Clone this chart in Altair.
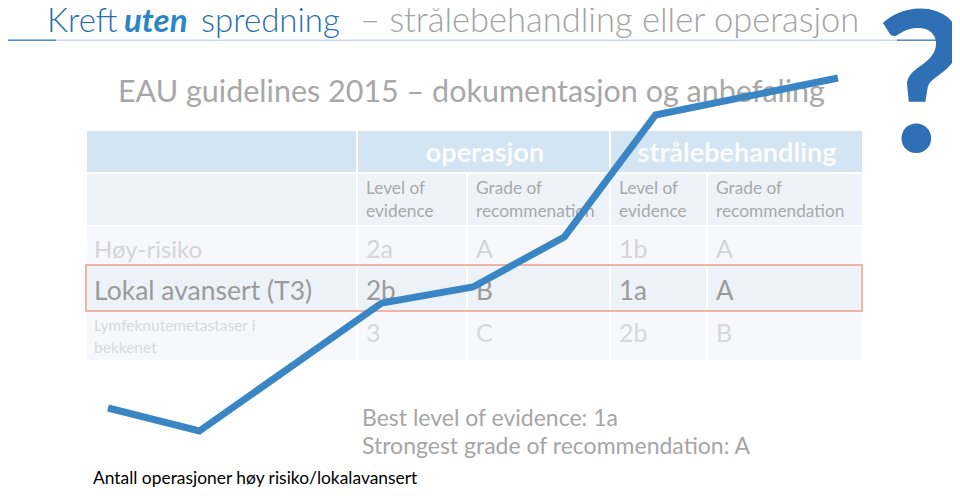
import altair as alt
import pandas as pd

# ---------------- data ----------------
years = [2007, 2008, 2010, 2011, 2012, 2013, 2015]
operations = [52, 29, 157, 173, 223, 345, 382]

title_words = ["Kreft", "uten", "spredning", "– strålebehandling eller operasjon"]
subtitle = "EAU guidelines 2015 – dokumentasjon og anbefaling"
group_headers = ["operasjon", "strålebehandling"]
sub_headers = ["Level of\nevidence", "Grade of\nrecommenation", "Level of\nevidence", "Grade of\nrecommendation"]
row_labels = ["Høy-risiko", "Lokal avansert (T3)", "Lymfeknutemetastaser i\nbekkenet"]
op_level = ["2a", "2b", "3"]
op_grade = ["A", "B", "C"]
rt_level = ["1b", "1a", "2b"]
rt_grade = ["A", "A", "B"]
summary = ["Best level of evidence: 1a", "Strongest grade of recommendation: A"]
footnote = "Antall operasjoner høy risiko/lokalavansert"

# ---------------- layout (page pixels) ----------------
W, H, M = 944, 480, 8
FONT = "Lato"
PX = alt.Scale(domain=[M, M + W], nice=False, zero=False)
PY = alt.Scale(domain=[M, M + H], nice=False, zero=False, reverse=True)

title_x = [47, 124, 201, 360]
title_style = ["plain", "em", "plain", "grey"]
col_edges = [(87, 356), (358, 466), (468, 609), (611, 706), (708, 862)]
group_edges = [(87, 356), (358, 609), (611, 862)]
col_text_x = [94, 366, 476, 619, 716]
row_edges = [(174, 225), (226, 265), (266, 311), (312, 360)]
row_fill = ["#eef3f9", "#f6f8fc", "#edf1f8", "#f6f8fc"]
row_base = [258, 300, 342]
row_label_base = [258, 300, 331]
row_label_size = [24, 26.5, 15.5]
row_value_size = [25, 26, 25]
row_color = ["#d5d5d5", "#9b9b9b", "#d8d8d8"]

# line scale so data lands on the slide position
LX0, LSTEP = 108, 91.25
x_lo = years[0] - (LX0 - M) / LSTEP
x_hi = years[0] + (M + W - LX0) / LSTEP
Y0 = 460  # page y for zero operations
y_lo = -(M + H - Y0)
y_hi = Y0 - M


def pos():
    return dict(x=alt.X("x:Q", scale=PX, axis=None), y=alt.Y("y:Q", scale=PY, axis=None))


def text_layer(items, **kw):
    df = pd.DataFrame(items, columns=["x", "y", "t"])
    return alt.Chart(df).mark_text(font=FONT, baseline="alphabetic", lineBreak="\n", **kw).encode(
        text="t:N", **pos()
    )


def rect_layer(items, **kw):
    df = pd.DataFrame(items, columns=["x", "x2", "y", "y2"])
    return alt.Chart(df).mark_rect(**kw).encode(
        x=alt.X("x:Q", scale=PX, axis=None), x2="x2:Q",
        y=alt.Y("y:Q", scale=PY, axis=None), y2="y2:Q",
    )


layers = []

# title rule
layers.append(rect_layer([(M, 937, 39.5, 41)], color="#c9daec"))
layers.append(rect_layer([(M, 56, 39.5, 41), (897, 937, 39.5, 41)], color="#4f8fcf"))

# title
TB = 32
for x, w, s in zip(title_x, title_words, title_style):
    if s == "em":
        layers.append(text_layer([(x, TB, w)], align="left", fontSize=33, fontWeight="bold",
                                 fontStyle="italic", color="#2b86c8"))
    elif s == "plain":
        layers.append(text_layer([(x, TB, w)], align="left", fontSize=33, fontWeight=300, color="#2a6fae"))
    else:
        layers.append(text_layer([(x, TB, w)], align="left", fontSize=34.5, fontWeight=300, color="#a3a3a3"))

# subtitle
layers.append(text_layer([(118, 102, subtitle)], align="left", fontSize=30.5, color="#a8a8a8"))

# table backgrounds
layers.append(rect_layer([(a, b, 131, 172) for a, b in group_edges], color="#d3e4f3"))
for (ya, yb), f in zip(row_edges, row_fill):
    layers.append(rect_layer([(a, b, ya, yb) for a, b in col_edges], color=f))

# group headers
layers.append(text_layer([(485, 162, group_headers[0]), (737, 162, group_headers[1])],
                         align="center", fontSize=27, fontWeight="bold", color="#ffffff", opacity=0.9))
# sub headers
layers.append(text_layer([(x, 194, s) for x, s in zip(col_text_x[1:], sub_headers)],
                         align="left", fontSize=17.3, color="#a9a9a9", lineHeight=23))

# rows
for i in range(3):
    layers.append(text_layer([(col_text_x[0], row_label_base[i], row_labels[i])], align="left",
                             fontSize=row_label_size[i], color=row_color[i], lineHeight=22))
    vals = [op_level[i], op_grade[i], rt_level[i], rt_grade[i]]
    layers.append(text_layer([(x, row_base[i], v) for x, v in zip(col_text_x[1:], vals)],
                             align="left", fontSize=row_value_size[i], color=row_color[i]))

# highlight box
layers.append(rect_layer([(86, 862, 265, 311)], fillOpacity=0, stroke="#efb3a8", strokeWidth=2))

# summary & footnote
layers.append(text_layer([(362, 426, summary[0]), (362, 454, summary[1])], align="left",
                         fontSize=23, color="#a6a6a6"))
layers.append(text_layer([(93, 484, footnote)], align="left", fontSize=17.4, color="#000000"))

# the line
line_df = pd.DataFrame({"år": years, "operasjoner": operations})
layers.append(
    alt.Chart(line_df).mark_line(color="#3a86c4", strokeWidth=7, strokeJoin="miter", strokeCap="butt").encode(
        x=alt.X("år:Q", scale=alt.Scale(domain=[x_lo, x_hi], nice=False, zero=False), axis=None),
        y=alt.Y("operasjoner:Q", scale=alt.Scale(domain=[y_lo, y_hi], nice=False, zero=False), axis=None),
    )
)

# question mark
layers.append(text_layer([(921, 152, "?")], align="center", fontSize=196, fontWeight="bold", color="#2e6fb5"))

chart = (
    alt.layer(*layers)
    .resolve_scale(x="independent", y="independent")
    .properties(width=W, height=H, padding=0, background="white",
                autosize=alt.AutoSizeParams(type="none"))
    .configure_view(stroke=None)
)

chart.save("out.html", embed_options={"renderer": "svg", "actions": False})
